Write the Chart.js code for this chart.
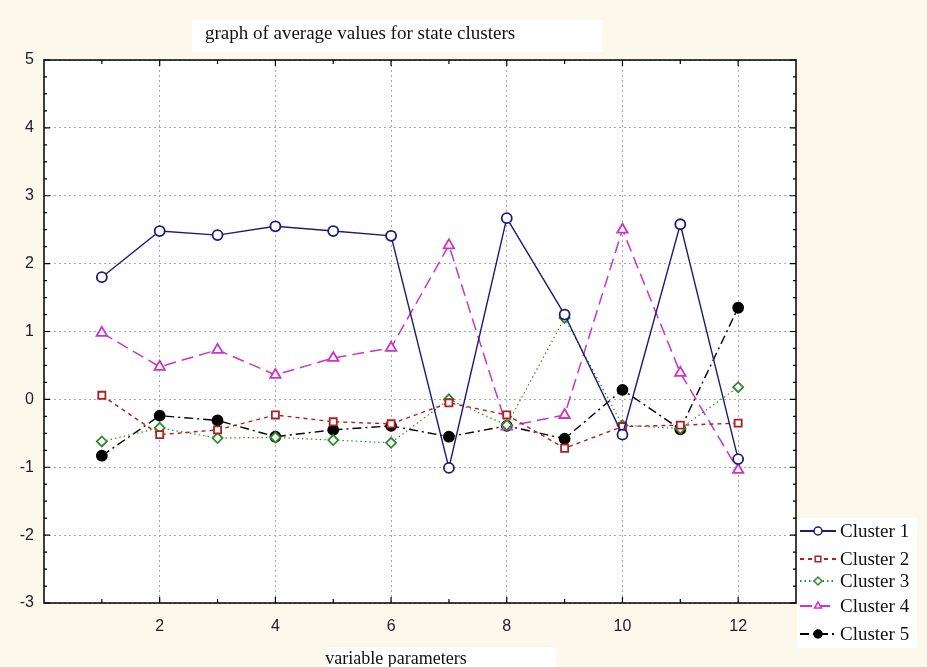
<!DOCTYPE html>
<html lang="en">
<head>
    <meta charset="UTF-8">
    <title>graph of average values for state clusters</title>
    <script src="https://cdn.jsdelivr.net/npm/chart.js"></script>
    <style>
        body { margin: 0; background: #fcf8ec; }
    </style>
</head>
<body>
    <canvas id="Chart" width="927" height="667"></canvas>
    <script>
        // values
        const params = [1, 2, 3, 4, 5, 6, 7, 8, 9, 10, 11, 12];
        const clusterNames = ['Cluster 1', 'Cluster 2', 'Cluster 3', 'Cluster 4', 'Cluster 5'];
        const cluster1 = [1.80, 2.48, 2.42, 2.55, 2.48, 2.41, -1.01, 2.67, 1.25, -0.52, 2.58, -0.88];
        const cluster2 = [0.06, -0.52, -0.45, -0.23, -0.33, -0.36, -0.05, -0.23, -0.72, -0.40, -0.38, -0.35];
        const cluster3 = [-0.62, -0.42, -0.57, -0.56, -0.60, -0.64, 0.00, -0.38, 1.20, -0.38, -0.43, 0.18];
        const cluster4 = [0.98, 0.48, 0.73, 0.36, 0.61, 0.76, 2.27, -0.40, -0.23, 2.50, 0.39, -1.04];
        const cluster5 = [-0.83, -0.24, -0.31, -0.55, -0.45, -0.39, -0.55, -0.39, -0.58, 0.14, -0.44, 1.35];
        const xTickLabels = ['2', '4', '6', '8', '10', '12'];
        const yTickLabels = ['-3', '-2', '-1', '0', '1', '2', '3', '4', '5'];
        const chartTitle = 'graph of average values for state clusters';
        const xTitle = 'variable parameters';

        const series = [cluster1, cluster2, cluster3, cluster4, cluster5];
        const styles = [
            { color: '#1c1c78', dash: [], point: 'circle', bg: '#ffffff', width: 1.4, r: 5 },
            { color: '#b02020', dash: [4, 4], point: 'rect', bg: '#ffffff', width: 1.4, r: 5 },
            { color: '#2f8a2f', dash: [1.5, 3], point: 'rectRot', bg: '#ffffff', width: 1.2, r: 5 },
            { color: '#cc33cc', dash: [12, 6], point: 'triangle', bg: '#ffffff', width: 1.5, r: 6 },
            { color: '#000000', dash: [9, 4, 2, 4], point: 'circle', bg: '#000000', width: 1.4, r: 5 }
        ];

        const datasets = series.map((vals, i) => ({
            label: clusterNames[i],
            data: params.map((p, j) => ({ x: p, y: vals[j] })),
            borderColor: styles[i].color,
            borderWidth: styles[i].width,
            borderDash: styles[i].dash,
            pointStyle: styles[i].point,
            pointRadius: styles[i].r,
            pointBackgroundColor: styles[i].bg,
            pointBorderColor: styles[i].color,
            pointBorderWidth: 1.8,
            tension: 0,
            fill: false
        }));

        const decor = {
            id: 'decor',
            beforeDraw(chart) {
                const ctx = chart.ctx, a = chart.chartArea;
                ctx.save();
                ctx.fillStyle = '#fcf8ec';
                ctx.fillRect(0, 0, chart.width, chart.height);
                ctx.fillStyle = '#ffffff';
                ctx.fillRect(a.left, a.top, a.right - a.left, a.bottom - a.top);
                ctx.fillRect(192, 20, 410, 32);     // title patch
                ctx.fillRect(328, 647, 228, 20);    // x title patch
                ctx.fillRect(797, 518, 120, 130);   // legend patch
                ctx.fillStyle = '#111';
                ctx.font = '19px "Liberation Serif", serif';
                ctx.textAlign = 'center';
                ctx.textBaseline = 'alphabetic';
                ctx.fillText(chartTitle, 360, 39);
                ctx.font = '18px "Liberation Serif", serif';
                ctx.fillText(xTitle, 396, 664);
                ctx.restore();
            },
            afterDraw(chart) {
                const ctx = chart.ctx, a = chart.chartArea;
                const xs = chart.scales.x, ys = chart.scales.y;
                ctx.save();
                ctx.strokeStyle = '#000';
                ctx.lineWidth = 1.5;
                ctx.strokeRect(a.left, a.top, a.right - a.left, a.bottom - a.top);
                ctx.lineWidth = 1.2;
                ctx.beginPath();
                for (let v = 1; v <= 12; v++) {
                    const px = xs.getPixelForValue(v);
                    const len = v % 2 === 0 ? 6 : 4;
                    ctx.moveTo(px, a.top); ctx.lineTo(px, a.top + len);
                    ctx.moveTo(px, a.bottom); ctx.lineTo(px, a.bottom - len);
                }
                for (let v = -3; v <= 5.001; v += 0.25) {
                    const py = ys.getPixelForValue(v);
                    const len = Math.abs(v - Math.round(v)) < 0.01 ? 6 : 3;
                    ctx.moveTo(a.left, py); ctx.lineTo(a.left + len, py);
                    ctx.moveTo(a.right, py); ctx.lineTo(a.right - len, py);
                }
                ctx.stroke();

                // legend
                const rows = [531, 559, 581, 606, 634];
                chart.data.datasets.forEach((ds, i) => {
                    const y = rows[i];
                    ctx.strokeStyle = ds.borderColor;
                    ctx.lineWidth = 2;
                    ctx.setLineDash(ds.borderDash);
                    ctx.beginPath();
                    ctx.moveTo(800, y); ctx.lineTo(836, y);
                    ctx.stroke();
                    ctx.setLineDash([]);
                    ctx.fillStyle = ds.pointBackgroundColor;
                    ctx.lineWidth = 1.5;
                    Chart.helpers.drawPoint(ctx, { pointStyle: ds.pointStyle, radius: 4, rotation: 0, borderWidth: 1.5 }, 818, y);
                    ctx.fillStyle = '#111';
                    ctx.font = '19px "Liberation Serif", serif';
                    ctx.textAlign = 'left';
                    ctx.textBaseline = 'middle';
                    ctx.fillText(ds.label, 840, y + 1);
                });
                ctx.restore();
            }
        };

        new Chart(document.getElementById('Chart'), {
            type: 'line',
            data: { datasets: datasets },
            options: {
                responsive: false,
                animation: false,
                devicePixelRatio: 1,
                layout: { padding: { top: 60, right: 131, left: 0, bottom: 0 } },
                plugins: { legend: { display: false }, title: { display: false }, tooltip: { enabled: false } },
                scales: {
                    x: {
                        type: 'linear',
                        min: 0,
                        max: 13,
                        afterFit: s => { s.height = 64; },
                        afterBuildTicks: s => { s.ticks = params.map(v => ({ value: v })); },
                        ticks: {
                            autoSkip: false,
                            maxRotation: 0,
                            padding: 14,
                            color: '#222',
                            font: { family: '"Liberation Sans", Arial, sans-serif', size: 16 },
                            callback: v => xTickLabels.includes(String(v)) ? String(v) : ''
                        },
                        grid: {
                            drawTicks: false,
                            color: ctx => (ctx.tick && ctx.tick.value % 2 === 0) ? '#a8a8a8' : 'rgba(0,0,0,0)',
                            lineWidth: 1
                        },
                        border: { display: false, dash: [2, 3] }
                    },
                    y: {
                        min: -3,
                        max: 5,
                        afterFit: s => { s.width = 44; },
                        afterBuildTicks: s => { s.ticks = yTickLabels.map(t => ({ value: Number(t) })); },
                        ticks: {
                            padding: 10,
                            color: '#222',
                            font: { family: '"Liberation Sans", Arial, sans-serif', size: 16 },
                            callback: v => String(v)
                        },
                        grid: { drawTicks: false, color: '#a8a8a8', lineWidth: 1 },
                        border: { display: false, dash: [2, 3] }
                    }
                }
            },
            plugins: [decor]
        });
    </script>
</body>
</html>
